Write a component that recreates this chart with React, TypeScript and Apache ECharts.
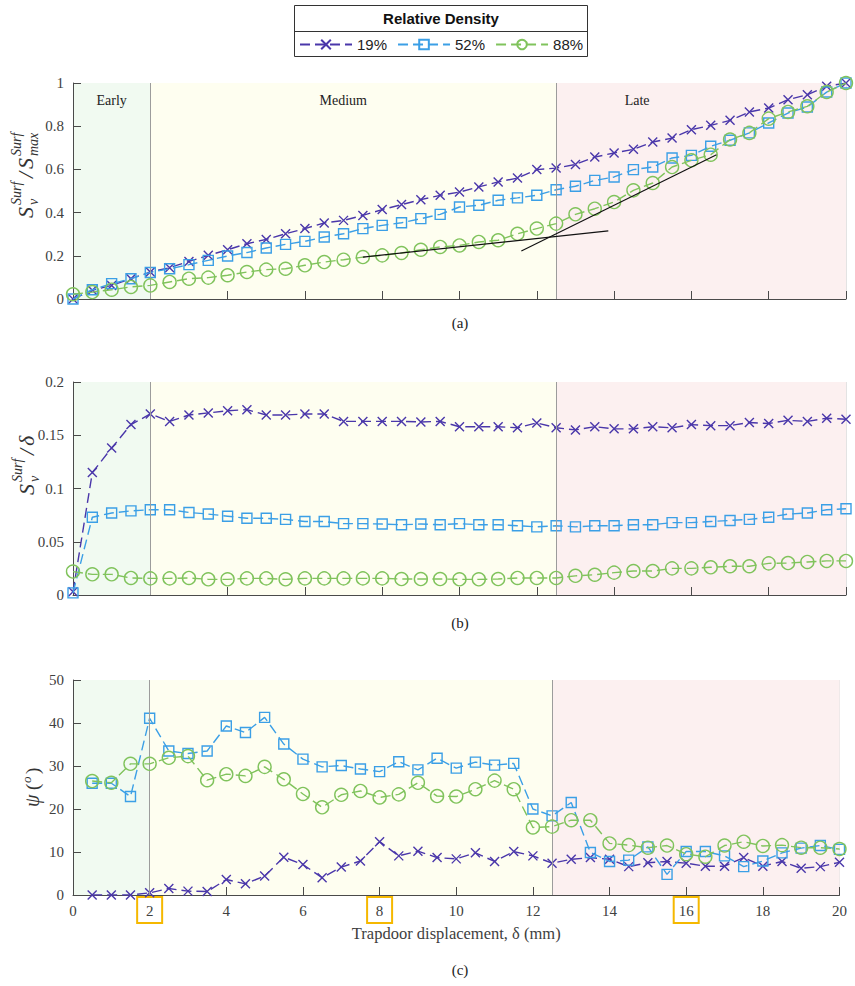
import React, { useEffect, useRef } from 'react';
import * as echarts from 'echarts';

const SERIF = "'Liberation Serif', 'DejaVu Serif', serif";
const SANS = "'Liberation Sans', Arial, sans-serif";

// Trapdoor displacement (mm)
const xA = [0, 0.5, 1, 1.5, 2, 2.5, 3, 3.5, 4, 4.5, 5, 5.5, 6, 6.5, 7, 7.5, 8, 8.5, 9, 9.5, 10,
  10.5, 11, 11.5, 12, 12.5, 13, 13.5, 14, 14.5, 15, 15.5, 16, 16.5, 17, 17.5, 18, 18.5, 19, 19.5, 20];
const xC = [0.5, 1, 1.5, 2, 2.5, 3, 3.5, 4, 4.5, 5, 5.5, 6, 6.5, 7, 7.5, 8, 8.5, 9, 9.5, 10,
  10.5, 11, 11.5, 12, 12.5, 13, 13.5, 14, 14.5, 15, 15.5, 16, 16.5, 17, 17.5, 18, 18.5, 19, 19.5, 20];

const seriesNames = ['19%', '52%', '88%'];

// (a) normalised surface settlement volume
const aS19 = [0, 0.04, 0.063, 0.094, 0.125, 0.145, 0.174, 0.202, 0.228, 0.256, 0.276, 0.302, 0.326, 0.352, 0.364, 0.387, 0.414, 0.437, 0.46, 0.48, 0.495, 0.519, 0.542, 0.56, 0.599, 0.606, 0.623, 0.657, 0.676, 0.693, 0.727, 0.745, 0.784, 0.804, 0.827, 0.866, 0.884, 0.923, 0.946, 0.985, 1.0];
const aS52 = [0, 0.043, 0.071, 0.094, 0.123, 0.14, 0.159, 0.179, 0.199, 0.215, 0.236, 0.253, 0.267, 0.287, 0.302, 0.326, 0.341, 0.353, 0.372, 0.392, 0.426, 0.434, 0.457, 0.468, 0.48, 0.506, 0.522, 0.549, 0.565, 0.599, 0.611, 0.653, 0.665, 0.707, 0.735, 0.769, 0.815, 0.861, 0.889, 0.958, 1.0];
const aS88 = [0.022, 0.032, 0.043, 0.056, 0.063, 0.079, 0.094, 0.099, 0.11, 0.125, 0.136, 0.14, 0.156, 0.171, 0.182, 0.194, 0.202, 0.213, 0.228, 0.241, 0.248, 0.264, 0.272, 0.302, 0.326, 0.349, 0.392, 0.418, 0.449, 0.503, 0.537, 0.611, 0.642, 0.668, 0.738, 0.769, 0.835, 0.866, 0.892, 0.958, 1.0];
// tangent lines on the 88% curve
const tan1X = [7.5, 13.85];
const tan1Y = [0.194, 0.315];
const tan2X = [11.6, 16.65];
const tan2Y = [0.222, 0.668];

// (b) surface settlement volume / displacement
const bS19 = [0.003, 0.115, 0.138, 0.16, 0.17, 0.163, 0.169, 0.171, 0.173, 0.174, 0.169, 0.169, 0.17, 0.17, 0.163, 0.163, 0.163, 0.163, 0.1625, 0.163, 0.158, 0.158, 0.158, 0.157, 0.1616, 0.157, 0.155, 0.158, 0.156, 0.156, 0.158, 0.157, 0.16, 0.159, 0.159, 0.162, 0.161, 0.164, 0.163, 0.166, 0.165];
const bS52 = [0.002, 0.073, 0.077, 0.079, 0.08, 0.08, 0.0775, 0.076, 0.074, 0.072, 0.072, 0.071, 0.069, 0.069, 0.067, 0.067, 0.0666, 0.066, 0.0666, 0.066, 0.067, 0.066, 0.066, 0.065, 0.064, 0.065, 0.064, 0.065, 0.065, 0.066, 0.066, 0.068, 0.068, 0.069, 0.07, 0.071, 0.073, 0.076, 0.077, 0.08, 0.081];
const bS88 = [0.022, 0.0194, 0.0194, 0.016, 0.0156, 0.0156, 0.016, 0.0147, 0.0147, 0.0156, 0.0156, 0.0147, 0.0156, 0.0156, 0.0156, 0.0156, 0.0156, 0.015, 0.015, 0.015, 0.0147, 0.0147, 0.015, 0.016, 0.016, 0.016, 0.018, 0.019, 0.021, 0.0225, 0.0225, 0.025, 0.025, 0.026, 0.027, 0.027, 0.0297, 0.03, 0.031, 0.032, 0.032];

// (c) psi (degrees)
const cS19 = [0, 0, 0, 0.5, 1.5, 0.9, 0.8, 3.6, 2.6, 4.4, 8.8, 7.1, 4.0, 6.5, 7.9, 12.4, 9.1, 10.2, 8.7, 8.4, 9.8, 7.8, 10.1, 9.1, 7.4, 8.3, 8.7, 8.3, 6.6, 7.5, 7.8, 7.4, 6.7, 6.7, 8.7, 6.7, 7.8, 6.2, 6.6, 7.6];
const cS52 = [26.0, 26.0, 22.9, 41.1, 33.5, 32.9, 33.5, 39.3, 37.8, 41.3, 35.1, 31.6, 29.8, 30.1, 29.3, 28.7, 31.0, 29.1, 31.8, 29.5, 30.9, 30.2, 30.6, 20.0, 18.4, 21.5, 9.9, 7.8, 8.1, 11.2, 4.8, 10.1, 10.1, 9.1, 6.6, 7.9, 9.8, 10.9, 11.5, 10.6];
const cS88 = [26.5, 26.1, 30.5, 30.5, 31.9, 32.3, 26.7, 28.1, 27.7, 29.8, 26.9, 23.5, 20.4, 23.3, 24.2, 22.7, 23.4, 26.1, 23.0, 22.9, 24.6, 26.6, 24.6, 15.7, 15.9, 17.4, 17.4, 12.0, 11.6, 11.0, 11.5, 9.5, 8.9, 11.5, 12.4, 11.4, 11.6, 11.0, 11.0, 10.7];

const phaseNames = ['Early', 'Medium', 'Late'];
const phaseBounds = [0, 2, 12.5, 20];
const highlightedTicks = [2, 8, 16];
const yMax = [1, 0.2, 50];
const yInterval = [0.2, 0.05, 10];

const COLORS = ['#4a37aa', '#3b9fe6', '#80c35c'];
const PHASE_COLORS = ['#f1faf1', '#fefef0', '#fcf0f0'];
const PHASE_LABEL_OFFSET = [0, -10, -64];
const SYMBOLS = ['path://M0,0L10,10M10,0L0,10', 'rect', 'circle'];
const SYMBOL_SIZES = [9, 10, 13];

const GRIDS = [
  { left: 73, width: 773, top: 83, height: 216 },
  { left: 73, width: 773, top: 382, height: 213 },
  { left: 73, width: 773, top: 680, height: 215 },
];

function dataSeries(g: number, k: number, xs: number[], ys: number[]) {
  return {
    name: seriesNames[k],
    type: 'line',
    xAxisIndex: g,
    yAxisIndex: g,
    data: xs.map((x, i) => [x, ys[i]]),
    symbol: SYMBOLS[k],
    symbolSize: SYMBOL_SIZES[k],
    showAllSymbol: true,
    z: 3 + k,
    silent: true,
    emphasis: { disabled: true },
    lineStyle: { color: COLORS[k], width: 1.4, type: [10, 5] },
    itemStyle: { color: 'transparent', borderColor: COLORS[k], borderWidth: 1.4 },
  };
}

function bgSeries(g: number) {
  return {
    name: 'bg' + g,
    type: 'line',
    xAxisIndex: g,
    yAxisIndex: g,
    data: [],
    z: 0,
    silent: true,
    markArea: {
      silent: true,
      data: phaseNames.map((n, i) => [
        {
          name: g === 0 ? n : '',
          xAxis: phaseBounds[i],
          itemStyle: { color: PHASE_COLORS[i] },
          label: {
            show: g === 0,
            position: 'insideTop',
            distance: 10,
            offset: [PHASE_LABEL_OFFSET[i], 0],
            fontFamily: SERIF,
            fontSize: 14,
            color: '#222',
          },
        },
        { xAxis: phaseBounds[i + 1] },
      ]),
    },
  };
}

function lineMarkSeries(g: number) {
  return {
    name: 'ml' + g,
    type: 'line',
    xAxisIndex: g,
    yAxisIndex: g,
    data: [],
    z: 1.5,
    silent: true,
    markLine: {
      silent: true,
      symbol: 'none',
      label: { show: false },
      lineStyle: { color: '#9c9c9c', width: 1, type: 'solid' },
      data: [{ xAxis: phaseBounds[1] }, { xAxis: phaseBounds[2] }],
    },
  };
}

function tangentSeries(xs: number[], ys: number[], id: string) {
  return {
    name: id,
    type: 'line',
    xAxisIndex: 0,
    yAxisIndex: 0,
    data: xs.map((x, i) => [x, ys[i]]),
    symbol: 'none',
    z: 7,
    silent: true,
    lineStyle: { color: '#111', width: 1.2 },
  };
}

function mathText(x: number, y: number, text: string, size: number, italic = true) {
  return {
    type: 'text',
    x,
    y,
    style: {
      text,
      font: `${italic ? 'italic ' : ''}${size}px ${SERIF}`,
      fill: '#333',
      textAlign: 'left',
      align: 'left',
      textVerticalAlign: 'middle',
      verticalAlign: 'middle',
    },
  };
}

export default function App() {
  const ref = useRef<HTMLDivElement>(null);
  useEffect(() => {
    if (!ref.current) return;
    const chart = echarts.init(ref.current, undefined, { renderer: 'svg' });

    const axisCommon = {
      z: 1,
      axisLine: { show: true, lineStyle: { color: '#4a4a4a', width: 1 } },
      axisTick: { show: true, inside: true, length: 8, lineStyle: { color: '#4a4a4a' } },
      splitLine: { show: true, lineStyle: { color: '#e3e3e3', width: 1 } },
    };

    const xAxes = GRIDS.map((_, g) => ({
      ...axisCommon,
      type: 'value',
      gridIndex: g,
      min: 0,
      max: 20,
      interval: 2,
      axisLabel: g === 2
        ? {
            show: true,
            margin: 7,
            formatter: (v: number) => (highlightedTicks.includes(v) ? `{hl|${v}}` : `{n|${v}}`),
            rich: {
              n: { fontFamily: SERIF, fontSize: 15, color: '#404040', padding: [6, 5, 5, 5], lineHeight: 16 },
              hl: {
                fontFamily: SERIF, fontSize: 15, color: '#404040', padding: [6, 5, 5, 5], lineHeight: 16,
                width: 15, align: 'center', borderColor: '#f5b800', borderWidth: 2,
              },
            },
          }
        : { show: false },
      name: g === 2 ? 'Trapdoor displacement, δ (mm)' : '',
      nameLocation: 'middle',
      nameGap: 30,
      nameTextStyle: { fontFamily: SERIF, fontSize: 16.5, color: '#404040' },
    }));

    const yAxes = GRIDS.map((_, g) => ({
      ...axisCommon,
      type: 'value',
      gridIndex: g,
      min: 0,
      max: yMax[g],
      interval: yInterval[g],
      axisLabel: { show: true, margin: 9, fontFamily: SERIF, fontSize: 15, color: '#404040' },
    }));

    const series: any[] = [];
    const panelData = [
      [xA, [aS19, aS52, aS88]],
      [xA, [bS19, bS52, bS88]],
      [xC, [cS19, cS52, cS88]],
    ] as [number[], number[][]][];
    panelData.forEach(([xs, ys], g) => {
      series.push(bgSeries(g));
      series.push(lineMarkSeries(g));
      ys.forEach((arr, k) => series.push(dataSeries(g, k, xs, arr)));
    });
    series.push(tangentSeries(tan1X, tan1Y, 'tan1'));
    series.push(tangentSeries(tan2X, tan2Y, 'tan2'));

    const labelA = {
      type: 'group', x: 25, y: 174, rotation: Math.PI / 2,
      children: [
        mathText(-44, 0, 'S', 22),
        mathText(-31, -9, 'Surf', 14),
        mathText(-31, 8, 'v', 14),
        mathText(-4, 0, '/', 22),
        mathText(5, 0, 'S', 22),
        mathText(18, -9, 'Surf', 14),
        mathText(18, 8, 'max', 14),
      ],
    };
    const labelB = {
      type: 'group', x: 26, y: 464, rotation: Math.PI / 2,
      children: [
        mathText(-31, 0, 'S', 22),
        mathText(-18, -9, 'Surf', 14),
        mathText(-18, 8, 'v', 14),
        mathText(9, 0, '/', 22),
        mathText(18, 0, 'δ', 22),
      ],
    };
    const labelC = {
      type: 'group', x: 32, y: 786, rotation: Math.PI / 2,
      children: [
        mathText(-21, 0, 'ψ', 20),
        mathText(-4, 0, '(', 19, false),
        mathText(3, -6, 'o', 13),
        mathText(12, 0, ')', 19, false),
      ],
    };

    const caption = (t: string, y: number) => ({
      type: 'text', x: 460, y,
      style: {
        text: t, font: `15px ${SERIF}`, fill: '#222',
        textAlign: 'center', align: 'center', textVerticalAlign: 'middle', verticalAlign: 'middle',
      },
    });

    chart.setOption({
      animation: false,
      backgroundColor: '#ffffff',
      grid: GRIDS.map((g) => ({ ...g, containLabel: false })),
      xAxis: xAxes,
      yAxis: yAxes,
      legend: {
        data: seriesNames,
        left: 294,
        top: 32,
        itemWidth: 52,
        itemHeight: 12,
        itemGap: 10,
        selectedMode: false,
        textStyle: { fontFamily: SANS, fontSize: 15, color: '#222' },
      },
      graphic: [
        {
          type: 'rect', z: 0,
          shape: { x: 294.5, y: 5.5, width: 293, height: 51 },
          style: { fill: '#ffffff', stroke: '#333', lineWidth: 1 },
        },
        {
          type: 'line', z: 1,
          shape: { x1: 294.5, y1: 31.5, x2: 587.5, y2: 31.5 },
          style: { stroke: '#333', lineWidth: 1 },
        },
        {
          type: 'text', x: 441, y: 18, z: 2,
          style: {
            text: 'Relative Density', font: `bold 15px ${SANS}`, fill: '#111',
            textAlign: 'center', align: 'center', textVerticalAlign: 'middle', verticalAlign: 'middle',
          },
        },
        labelA,
        labelB,
        labelC,
        caption('(a)', 323),
        caption('(b)', 623),
        caption('(c)', 970),
      ],
      series,
    });

    return () => chart.dispose();
  }, []);

  return (
    <div
      ref={ref}
      style={{ position: 'absolute', left: 0, top: 0, width: 855, height: 986 }}
    />
  );
}
